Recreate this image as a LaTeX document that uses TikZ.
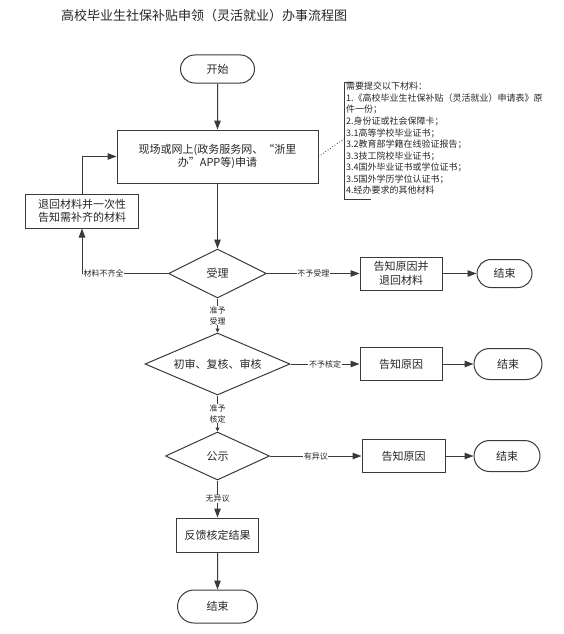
\documentclass[tikz,border=0pt]{standalone}
\usepackage{fontspec}
\setmainfont{Noto Sans CJK SC}
\usetikzlibrary{shapes.geometric,shapes.misc,arrows.meta}
\definecolor{ln}{HTML}{3A3A3A}
\definecolor{tx}{HTML}{262626}
\begin{document}
\begin{tikzpicture}[x=1pt,y=-1pt,
  every node/.style={text=tx},
  box/.style={draw=ln, line width=1pt, align=center, inner sep=1pt,
    font=\fontsize{11}{13.5}\selectfont},
  term/.style={rounded rectangle, draw=ln, line width=1pt, inner sep=1pt,
    font=\fontsize{11}{13.5}\selectfont},
  dec/.style={diamond, draw=ln, line width=1pt, inner sep=0pt,
    font=\fontsize{11}{13.5}\selectfont},
  lbl/.style={fill=white, inner sep=0.6pt, align=center,
    font=\fontsize{8}{11}\selectfont},
  arr/.style={draw=ln, line width=1pt, -{Triangle[length=9pt,width=6.5pt]}},
  sarr/.style={draw=ln, line width=1pt, -{Triangle[length=4pt,width=4pt]}},
]
\useasboundingbox (0,0) rectangle (563,634);

\node[font=\fontsize{13}{15}\selectfont] (title) at (204,16) {高校毕业生社保补贴申领（灵活就业）办事流程图};

\node[term, minimum width=76pt, minimum height=28pt] (start) at (217.5,69) {开始};
\node[box, minimum width=201pt, minimum height=53pt] (proc) at (217.5,156.5)
  {现场或网上(政务服务网、“浙里\\办”APP等)申请};
\node[box, minimum width=113pt, minimum height=34pt] (ret) at (82,211)
  {退回材料并一次性\\告知需补齐的材料};

\node[dec, minimum width=98pt, minimum height=49pt, aspect=2] (d1) at (217.5,273.5) {受理};
\node[box, minimum width=82pt, minimum height=33pt] (r1) at (401,273.5) {告知原因并\\退回材料};
\node[term, minimum width=57pt, minimum height=28pt] (e1) at (504.5,273.5) {结束};

\node[dec, minimum width=145pt, minimum height=62pt, aspect=2.34] (d2) at (217.5,364) {初审、复核、审核};
\node[box, minimum width=82pt, minimum height=33pt] (r2) at (401,364) {告知原因};
\node[term, minimum width=70pt, minimum height=31pt] (e2) at (508,364) {结束};

\node[dec, minimum width=104pt, minimum height=48pt, aspect=2.2] (d3) at (217.5,456) {公示};
\node[box, minimum width=83pt, minimum height=33pt] (r3) at (403.5,456) {告知原因};
\node[term, minimum width=68pt, minimum height=31pt] (e3) at (507,456) {结束};

\node[box, minimum width=82pt, minimum height=34pt] (fb) at (217.5,535) {反馈核定结果};
\node[term, minimum width=82pt, minimum height=33pt] (e4) at (217.5,606.5) {结束};

% annotation
\node[anchor=north west, inner sep=0pt, align=left,
  font=\fontsize{9}{11.55}\selectfont] (note) at (346,82)
  {需要提交以下材料：\\
   1.《高校毕业生社保补贴（灵活就业）申请表》原\\
   件一份；\\
   2.身份证或社会保障卡；\\
   3.1高等学校毕业证书；\\
   3.2教育部学籍在线验证报告；\\
   3.3技工院校毕业证书；\\
   3.4国外毕业证书或学位证书；\\
   3.5国外学历学位认证书；\\
   4.经办要求的其他材料};
\coordinate (bt) at (344,82);
\coordinate (bb) at (344,199);
\coordinate (bm) at (344,139);
\draw[ln, line width=1pt] ([xshift=9pt]bt) -- (bt) -- (bb) -- ([xshift=27pt]bb);
\draw[ln, line width=0.8pt, dotted] (proc.east) -- (bm);

% connectors
\draw[arr] (start) -- (proc);
\draw[arr] (proc) -- (d1);
\draw[arr] (d1.west) -- node[lbl, pos=0.75] {材料不齐全} (ret.south |- d1.west) -- (ret.south);
\draw[arr] (ret.north) |- (proc.west);
\draw[arr] (d1.east) -- node[lbl] {不予受理} (r1.west);
\draw[arr] (r1) -- (e1);
\draw[sarr] (d1.south) -- node[lbl] {准予\\受理} (d2.north);
\draw[arr] (d2.east) -- node[lbl] {不予核定} (r2.west);
\draw[arr] (r2) -- (e2);
\draw[sarr] (d2.south) -- node[lbl] {准予\\核定} (d3.north);
\draw[arr] (d3.east) -- node[lbl] {有异议} (r3.west);
\draw[arr] (r3) -- (e3);
\draw[arr] (d3.south) -- node[lbl] {无异议} (fb.north);
\draw[arr] (fb) -- (e4);
\end{tikzpicture}
\end{document}
